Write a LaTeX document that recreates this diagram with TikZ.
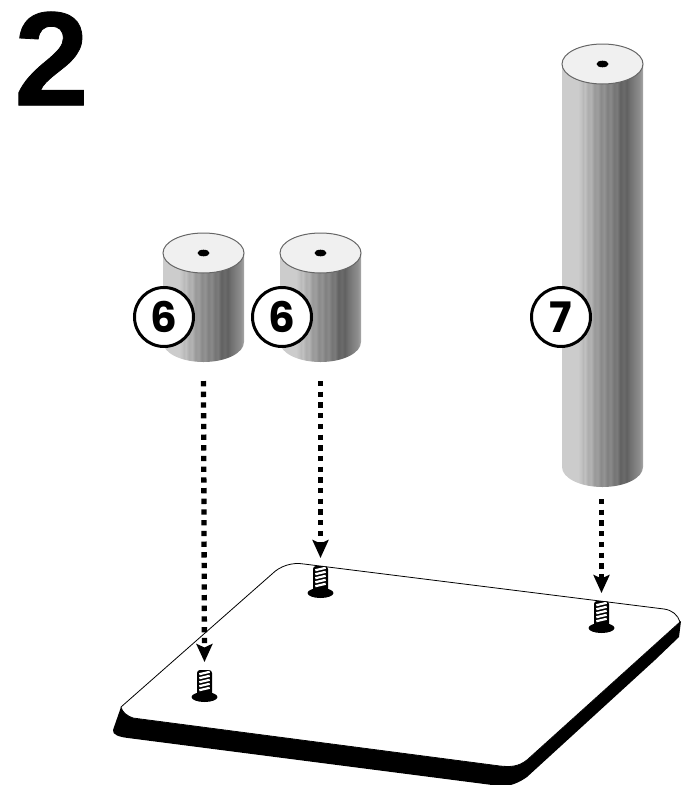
\documentclass[tikz,border=0pt]{standalone}
\usepackage{fontspec}
\usetikzlibrary{arrows.meta}
\setsansfont{Poppins}
\newfontfamily\stepfont[BoldFeatures={FakeBold=0.6}]{Liberation Sans}
\pgfdeclarehorizontalshading{cylbands}{100bp}{
  color(0bp)=(black!20); color(25bp)=(black!20); color(35bp)=(black!20);
  color(37bp)=(black!24); color(38bp)=(black!28); color(39bp)=(black!24);
  color(41bp)=(black!32); color(43bp)=(black!30); color(45bp)=(black!40);
  color(47bp)=(black!38); color(49bp)=(black!46); color(51bp)=(black!42);
  color(53bp)=(black!50); color(55bp)=(black!46); color(57bp)=(black!54);
  color(59bp)=(black!52); color(61bp)=(black!62); color(63bp)=(black!58);
  color(65bp)=(black!62); color(67bp)=(black!56); color(69bp)=(black!52);
  color(71bp)=(black!48); color(73bp)=(black!44); color(75bp)=(black!34);
  color(100bp)=(black!34)
}

\begin{document}
\begin{tikzpicture}[x=1pt,y=-1pt]
\tikzset{
  badge/.style = {
    shape=circle,
    minimum size=59pt,
    inner sep=0pt,
    draw=black,
    line width=3pt,
    fill=white,
    font=\sffamily\bfseries\fontsize{42}{42}\selectfont
  },
  capface/.style = {draw=black!60, line width=1pt, fill=black!6},
  dropline/.style = {
    line width=5.3pt,
    dash pattern=on 5.3pt off 5.4pt,
    -{Stealth[length=18pt,width=16pt,inset=3.5pt]}
  }
}
\useasboundingbox (0,0) rectangle (681,785);

\node[anchor=center, inner sep=0pt, font=\stepfont\bfseries\fontsize{134}{134}\selectfont] (stepnum) at (51.5,58.5) {2};

% plate
\fill[black] (121,707) -- (113,730) .. controls (112,735) and (120,737) .. (128,738)
  -- (500,786) .. controls (510,787) and (520,782) .. (527,777)
  -- (655,660) -- (679,637) -- (681,621) -- (527,760) -- (133,718) -- cycle;
\draw[line width=0.8pt, fill=white] (121,707) -- (272,574)
  .. controls (280,566) and (292,562) .. (304,564)
  -- (664,609) .. controls (672,610) and (678,615) .. (680,622)
  -- (527,760) .. controls (518,767) and (510,767) .. (500,766)
  -- (133,718) .. controls (127,716) and (122,712) .. (121,707);

% screws
\foreach \sname/\sx/\sy in {screwA/204.5/697, screwB/320.5/593, screwC/601.5/628} {
  \fill[black, rounded corners=3pt] (\sx-7.5,\sy-27) rectangle (\sx+7.5,\sy);
  \fill[black] (\sx,\sy) ellipse [x radius=13pt, y radius=5pt];
  \foreach \k in {0,...,4} {
    \draw[white, line width=2.2pt] (\sx-5.2,\sy-6.8-4*\k) -- (\sx+5.2,\sy-9.2-4*\k);
  }
  \coordinate (\sname) at (\sx,\sy-35);
}

% cylinders
\foreach \cname/\cx/\ctop/\cbot in {cylA/203.5/253/342, cylB/320.5/253/342, cylC/602.5/64/467} {
  \shade[shading=cylbands] (\cx-40.5,\ctop) -- (\cx-40.5,\cbot)
    arc[start angle=180, end angle=360, x radius=40.5pt, y radius=20pt]
    -- (\cx+40.5,\ctop) -- cycle;
  \draw[capface] (\cx,\ctop) ellipse [x radius=40.5pt, y radius=20pt];
  \fill[black] (\cx,\ctop) ellipse [x radius=6pt, y radius=3.3pt];
  \coordinate (\cname) at (\cx,\cbot+39);
}
\coordinate (cylC) at (601.5,499);

\draw[dropline] (cylA) -- (screwA);
\draw[dropline] (cylB) -- (screwB);
\draw[dropline] (cylC) -- (screwC);

\node[badge] (partA) at (164,317) {6};
\node[badge] (partB) at (282,317) {6};
\node[badge] (partC) at (561,317) {7};

\end{tikzpicture}
\end{document}
